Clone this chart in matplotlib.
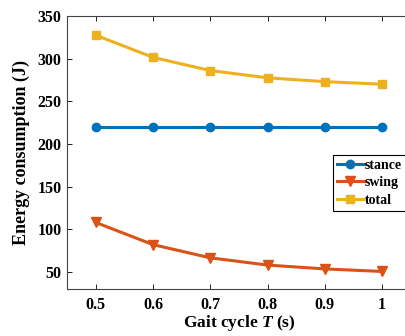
import numpy as np
import matplotlib.pyplot as plt

# date
gait_cycle = [0.5, 0.6, 0.7, 0.8, 0.9, 1.0]
stance = [219.5, 219.5, 219.5, 219.5, 219.5, 219.5]
swing = [108, 82, 66.5, 58, 53.5, 50.5]
total = [327.5, 301.5, 286, 277.5, 273, 270]
x_ticks = [0.5, 0.6, 0.7, 0.8, 0.9, 1.0]
x_labels = ['0.5', '0.6', '0.7', '0.8', '0.9', '1']
y_ticks = [50, 100, 150, 200, 250, 300, 350]

plt.rcParams['font.family'] = 'Liberation Serif'
plt.rcParams['font.weight'] = 'bold'
plt.rcParams['mathtext.fontset'] = 'custom'
plt.rcParams['mathtext.it'] = 'Liberation Serif:italic:bold'

fig = plt.figure(figsize=(4.06, 3.36), dpi=100)
ax = fig.add_axes([0.165, 0.14, 0.8468, 0.8125])

ax.plot(gait_cycle, stance, '-o', color='#0072BD', lw=2.2, ms=6, label='stance')
ax.plot(gait_cycle, swing, '-v', color='#D95319', lw=2.2, ms=7, label='swing')
ax.plot(gait_cycle, total, '-s', color='#EDB120', lw=2.2, ms=5.5, label='total')

ax.set_xlim(0.45, 1.05)
ax.set_ylim(30, 350)
ax.set_xticks(x_ticks)
ax.set_xticklabels(x_labels)
ax.set_yticks(y_ticks)
ax.tick_params(direction='in', labelsize=11.5, length=3.5, width=0.6, top=True, right=True)
ax.tick_params(axis='x', pad=6)
ax.tick_params(axis='y', pad=4)
for s in ax.spines.values():
    s.set_linewidth(0.8)
    s.set_color('#444444')

ax.set_xlabel('Gait cycle $T$ (s)', fontsize=12.5, fontweight='bold', labelpad=0)
ax.set_ylabel('Energy consumption (J)', fontsize=13, fontweight='bold', labelpad=5)

leg = ax.legend(loc='upper left', bbox_to_anchor=(333 / 406, 1 - 155 / 336),
                bbox_transform=fig.transFigure, fontsize=10, handlelength=1.9,
                handletextpad=0.1, borderpad=0.3, labelspacing=0.3,
                fancybox=False, edgecolor='black', framealpha=1, borderaxespad=0)
leg.get_frame().set_linewidth(0.8)

fig.savefig('out.png', dpi=100)
